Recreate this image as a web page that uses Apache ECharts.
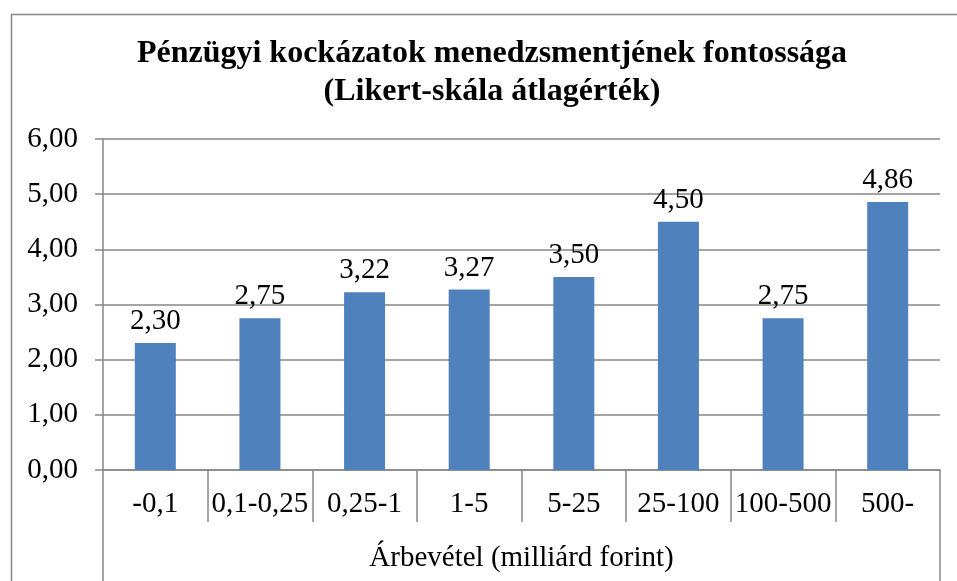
<!DOCTYPE html>
<html><head><meta charset="utf-8">
<script src="https://cdn.jsdelivr.net/npm/echarts@6/dist/echarts.min.js"></script>
<style>html,body{margin:0;padding:0;background:#fff}#c{width:957px;height:581px}</style>
</head><body><div id="c"></div>
<script>
const titleText = 'Pénzügyi kockázatok menedzsmentjének fontossága\n(Likert-skála átlagérték)';
const categories = ['-0,1', '0,1-0,25', '0,25-1', '1-5', '5-25', '25-100', '100-500', '500-'];
const values = [2.30, 2.75, 3.22, 3.27, 3.50, 4.50, 2.75, 4.86];
const axisTitle = ['Árbevétel (milliárd forint)'];
const yTicks = {min: 0, max: 6, interval: 1};

const fmt = v => v.toFixed(2).replace('.', ',');
const serif = '"Liberation Serif", "Times New Roman", serif';
const gray = '#868686';
const fs = 29;

const chart = echarts.init(document.getElementById('c'), null, {renderer: 'canvas'});
chart.setOption({
  animation: false,
  backgroundColor: '#fff',
  title: {
    text: titleText, left: 487, textAlign: 'center', top: 30,
    textStyle: {fontFamily: serif, fontWeight: 'bold', fontSize: 32, lineHeight: 38, color: '#000'}
  },
  graphic: [{
    type: 'rect', left: 9, top: 12, z: -1,
    shape: {width: 1200, height: 1200},
    style: {fill: 'none', stroke: gray, lineWidth: 1.5}
  }],
  grid: {left: 103, right: 17, top: 139, bottom: 111, containLabel: false},
  xAxis: [{
    type: 'category', data: categories, position: 'bottom',
    axisLine: {show: true, lineStyle: {color: gray, width: 1.5}},
    axisTick: {show: true, length: 52, alignWithLabel: false, lineStyle: {color: gray, width: 1.5}},
    axisLabel: {fontFamily: serif, fontSize: fs, color: '#000', margin: 20, interval: 0}
  }, {
    type: 'category', data: axisTitle, position: 'bottom', offset: 52,
    axisLine: {show: false},
    axisTick: {show: true, length: 60, lineStyle: {color: gray, width: 1.5}},
    axisLabel: {fontFamily: serif, fontSize: fs, color: '#000', margin: 22}
  }],
  yAxis: {
    type: 'value', min: yTicks.min, max: yTicks.max, interval: yTicks.interval,
    axisLine: {show: true, lineStyle: {color: gray, width: 1.5}},
    axisTick: {show: true, length: 8, lineStyle: {color: gray, width: 1.5}},
    splitLine: {show: true, lineStyle: {color: gray, width: 1.5}},
    axisLabel: {fontFamily: serif, fontSize: fs, color: '#000', margin: 25, formatter: fmt}
  },
  series: [{
    type: 'bar', data: values, xAxisIndex: 0, barWidth: 41,
    itemStyle: {color: '#4F81BD'},
    label: {show: true, position: 'top', distance: 7, fontFamily: serif, fontSize: fs, color: '#000', formatter: p => fmt(p.value)}
  }]
});
</script></body></html>
